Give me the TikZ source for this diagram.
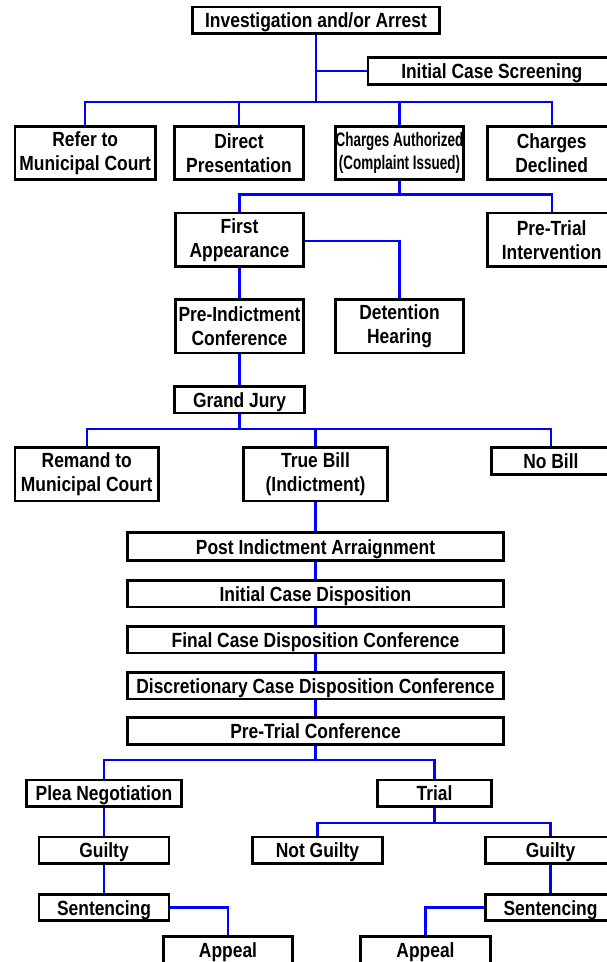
\documentclass[tikz,border=0pt]{standalone}
\usepackage{fontspec}
\setmainfont{Liberation Sans}[FakeStretch=0.85]
\newfontfamily\narrowfont{Liberation Sans}[FakeStretch=0.69]
\pgfdeclarelayer{bg}
\pgfsetlayers{bg,main}
\tikzset{
  box/.style={draw=black, line width=2.8pt, fill=white, inner sep=0pt,
    minimum height=26.7pt, align=center,
    font=\fontsize{20.5}{24}\selectfont\bfseries},
  one/.style={box, text height=15pt, text depth=0pt},
  tall/.style={box, minimum height=53.5pt},
  link/.style={draw=blue, line width=2.3pt},
}
\begin{document}
\begin{tikzpicture}[x=1pt,y=-1pt]
\useasboundingbox (0,0) rectangle (607,962);
\clip (0,0) rectangle (607,962);
% nodes
\node[one, minimum width=247.7pt] (inv) at (316,20.3) {Investigation and/or Arrest};
\node[one, minimum width=247.7pt] (ics) at (491.8,71.2) {Initial Case Screening};
\node[tall, minimum width=140.5pt] (refer) at (85.2,153) {Refer to\\Municipal Court};
\node[tall, minimum width=128.7pt] (direct) at (239,153) {Direct\\Presentation};
\node[tall, minimum width=128.7pt, font=\narrowfont\fontsize{19.5}{23}\selectfont\bfseries] (ca) at (399.5,153) {Charges Authorized\\(Complaint Issued)};
\node[tall, minimum width=128.7pt] (declined) at (551.7,153) {Charges\\Declined};
\node[tall, minimum width=128.7pt] (fa) at (239.5,239.7) {First\\Appearance};
\node[tall, minimum width=128.7pt] (pti) at (551.7,239.7) {Pre-Trial\\Intervention};
\node[tall, minimum width=128.7pt] (pic) at (239.5,326.3) {Pre-Indictment\\Conference};
\node[tall, minimum width=128.7pt] (det) at (399.5,326.3) {Detention\\Hearing};
\node[one, minimum width=130pt] (gj) at (239.5,399.7) {Grand Jury};
\node[tall, minimum width=143.6pt] (remand) at (86.7,474.3) {Remand to\\Municipal Court};
\node[tall, minimum width=143.6pt] (tb) at (315.5,474.3) {True Bill\\(Indictment)};
\node[one, minimum width=119.6pt] (nobill) at (550.9,460.9) {No Bill};
\node[one, minimum width=376.6pt, minimum height=28.3pt] (pia) at (315.5,546.7) {Post Indictment Arraignment};
\node[one, minimum width=376.6pt] (icd) at (315.5,593.7) {Initial Case Disposition};
\node[one, minimum width=376.6pt] (fcdc) at (315.5,639.7) {Final Case Disposition Conference};
\node[one, minimum width=376.6pt] (dcdc) at (315.5,685.7) {Discretionary Case Disposition Conference};
\node[one, minimum width=376.6pt] (ptc) at (315.5,731.2) {Pre-Trial Conference};
\node[one, minimum width=154.7pt] (plea) at (104,793.3) {Plea Negotiation};
\node[one, minimum width=113.7pt] (trial) at (434.6,793.3) {Trial};
\node[one, minimum width=130pt] (gl) at (104,850.4) {Guilty};
\node[one, minimum width=130pt] (ng) at (317.5,850.4) {Not Guilty};
\node[one, minimum width=130.2pt] (gr) at (550.5,850.4) {Guilty};
\node[one, minimum width=130pt] (sl) at (104,907.5) {Sentencing};
\node[one, minimum width=130.2pt] (sr) at (550.5,907.5) {Sentencing};
\node[one, minimum width=129.6pt] (al) at (228,950) {Appeal};
\node[one, minimum width=129.6pt] (ar) at (425.5,950) {Appeal};
% bus points
\coordinate (b1) at (316,101.7);
\coordinate (b2) at (399.5,194.5);
\coordinate (b3) at (239.5,429.3);
\coordinate (b4) at (315.5,760);
\coordinate (b5) at (434.6,822.7);
% connectors
\begin{pgfonlayer}{bg}
\draw[link] (inv.south) -- (b1);
\draw[link] (inv.south |- ics.west) -- (ics.west);
\draw[link] (refer.north) |- (b1) -| (declined.north);
\draw[link] (direct.north) -- (direct.north |- b1);
\draw[link] (ca.north) -- (ca.north |- b1);
\draw[link] (ca.south) -- (b2);
\draw[link] (fa.north) |- (b2) -| (pti.north);
\draw[link] ([yshift=-1pt]fa.east) -| (det.north);
\draw[link] (fa.south) -- (pic.north);
\draw[link] (pic.south) -- (gj.north);
\draw[link] (gj.south) -- (b3);
\draw[link] (remand.north) |- (b3) -| (nobill.north);
\draw[link] (tb.north) -- (tb.north |- b3);
\draw[link] (tb.south) -- (pia.north);
\draw[link] (pia.south) -- (icd.north);
\draw[link] (icd.south) -- (fcdc.north);
\draw[link] (fcdc.south) -- (dcdc.north);
\draw[link] (dcdc.south) -- (ptc.north);
\draw[link] (ptc.south) -- (b4);
\draw[link] (plea.north) |- (b4) -| (trial.north);
\draw[link] (plea.south) -- (gl.north);
\draw[link] (gl.south) -- (sl.north);
\draw[link] (trial.south) -- (b5);
\draw[link] (ng.north) |- (b5) -| (gr.north);
\draw[link] (gr.south) -- (sr.north);
\draw[link] (sl.east) -| (al.north);
\draw[link] (sr.west) -| (ar.north);
\end{pgfonlayer}
\end{tikzpicture}
\end{document}
